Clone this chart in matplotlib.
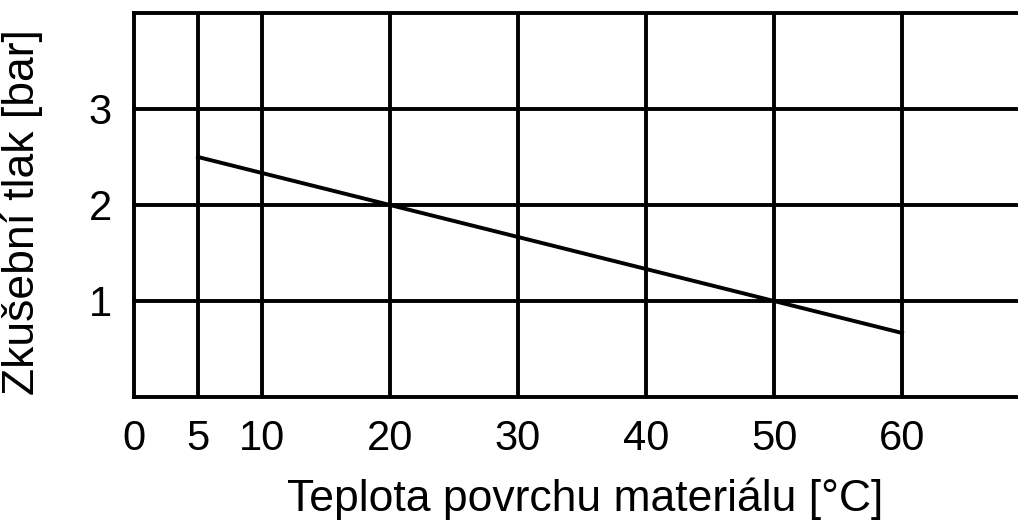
"""Test pressure vs. material surface temperature."""
import matplotlib

matplotlib.use("Agg")
import matplotlib.pyplot as plt  # noqa

# data
temperature = [5, 20, 50, 60]
pressure = [2.5, 2.0, 1.0, 0.667]
x_ticks = [0, 5, 10, 20, 30, 40, 50, 60]
y_ticks = [1, 2, 3]

plt.rcParams["font.family"] = ["Liberation Sans", "DejaVu Sans"]

fig = plt.figure(figsize=(10.18, 5.22), dpi=100)
ax = fig.add_axes([134 / 1018, 1 - 397 / 522, 1 - 134 / 1018, (397 - 13) / 522])

ax.set_xlim(0, (1018 - 134) / 12.8)
ax.set_ylim(0, 4.0)

lw = 2.8
for xv in x_ticks[1:]:
    ax.axvline(xv, color="black", lw=lw, zorder=1)
for yv in y_ticks:
    ax.axhline(yv, color="black", lw=lw, zorder=1)

ax.plot(temperature, pressure, color="black", lw=lw, zorder=2)

for side in ("left", "bottom", "top"):
    ax.spines[side].set_linewidth(lw)
ax.spines["right"].set_visible(False)

ax.set_xticks(x_ticks)
ax.set_yticks(y_ticks)
ax.tick_params(length=0, labelsize=30, pad=16)
ax.tick_params(axis="y", pad=16)

ax.set_xlabel("Teplota povrchu materiálu [°C]", fontsize=32, va="center")
ax.set_ylabel("Zkušební tlak [bar]", fontsize=32, va="center")
ax.xaxis.set_label_coords((585 - 134) / (1018 - 134), -(499 - 397) / 384)
ax.yaxis.set_label_coords(-(134 - 22) / (1018 - 134), (397 - 212) / 384)

fig.savefig("out.png", dpi=100)
